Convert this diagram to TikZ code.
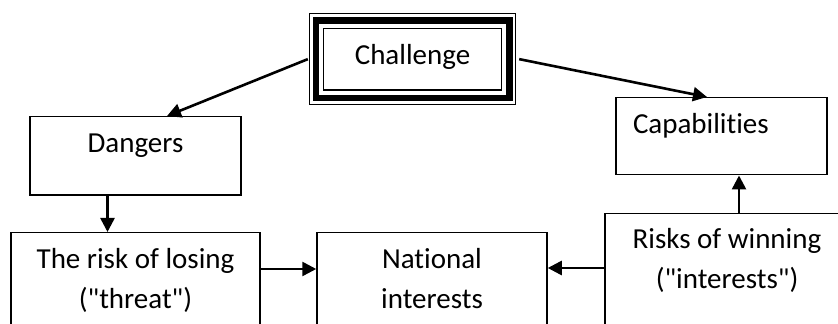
\documentclass[tikz,border=0pt]{standalone}
\usepackage{fontspec}
\setmainfont{Carlito}[Ligatures={TeXOff,NoCommon}]
\usetikzlibrary{arrows.meta}
\tikzset{
    %Define standard arrow tip
    >={Triangle[length=7pt,width=7pt]},
}

\begin{document}
\begin{tikzpicture}[x=0.5pt, y=-0.5pt,
    font=\fontsize{14.5}{20}\selectfont,
    box/.style = {draw, line width=0.75pt, inner sep=0pt, anchor=north,
                  align=center, text height=18pt},
    link/.style = {->, line width=1.3pt},
  ]
  \clip (0,0) rectangle (838,324);
  \node[box, minimum width=89.2pt, text depth=12.85pt,
        outer xsep=3.75pt, outer ysep=4pt] (challenge) at (412.5,20.3) {Challenge};
  \draw[line width=3.3pt] (challenge.north west) rectangle (challenge.south east);
  \draw[line width=0.5pt] ([shift={(-6.5,-6.5)}]challenge.north west)
    rectangle ([shift={(6.5,6.5)}]challenge.south east);
  \node[box, minimum width=105.5pt, text depth=21.25pt] (dangers) at (135.5,116) {Dangers};
  \node[box, align=left, text width=88.5pt, inner xsep=8.5pt,
        text depth=20.5pt] (capabilities) at (721.5,97) {Capabilities};
  \node[box, minimum width=124.5pt, text height=38pt, text depth=16pt] (losing) at (135.5,232)
    {The risk of losing\\("threat")};
  \node[box, minimum width=115pt, text height=38pt, text depth=16pt] (national) at (432,232)
    {National\\interests};
  \node[box, minimum width=122pt, text height=37.5pt, text depth=26pt] (winning) at (727,213)
    {Risks of winning\\("interests")};
  \draw[link] ([xshift=-4pt]challenge.west) -- ([xshift=15.75pt]dangers.north);
  \draw[link] ([xshift=5pt]challenge.east) -- ([xshift=-7.25pt]capabilities.north);
  \draw[link] ([xshift=-14pt]dangers.south) -- ([xshift=-14pt]dangers.south |- losing.north);
  \draw[link] ([yshift=-18.5pt]losing.north east) -- ([yshift=-18.5pt]national.north west);
  \draw[link] ([yshift=-27.5pt]winning.north west) -- ([yshift=-27.5pt]winning.north west -| national.east);
  \draw[link] ([xshift=6pt]winning.north) -- ([xshift=6pt]winning.north |- capabilities.south);


\end{tikzpicture}
\end{document}
